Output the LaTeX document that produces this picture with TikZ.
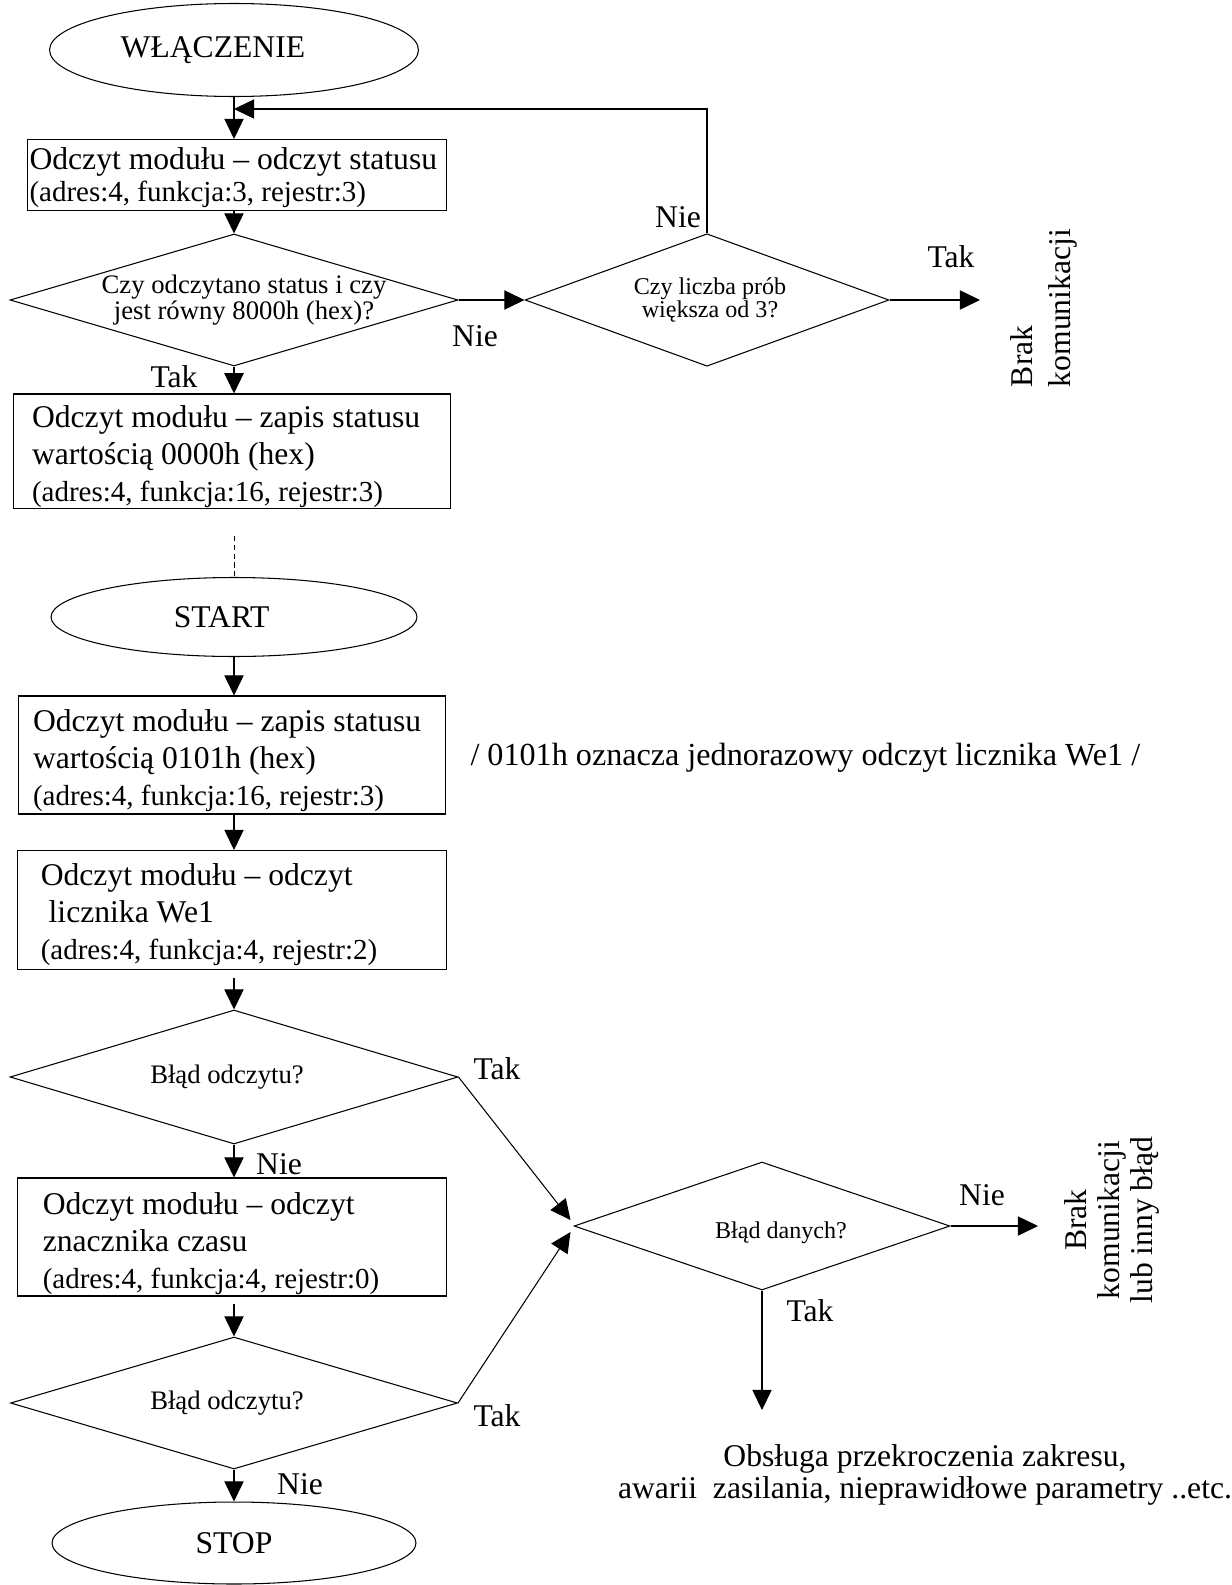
\documentclass[tikz,border=0pt]{standalone}
\usepackage{fontspec}
\setmainfont{Liberation Serif}
\usepackage{tikz}
\usetikzlibrary{shapes.geometric,arrows.meta}
\newcommand{\duzy}{\fontsize{18}{21.2}\selectfont}
\newcommand{\sredni}{\fontsize{16.5}{19}\selectfont}
\newcommand{\romba}{\fontsize{15.2}{15}\selectfont}
\newcommand{\rombb}{\fontsize{13.7}{13.3}\selectfont}

\begin{document}
\begin{tikzpicture}[x=0.02cm,y=-0.02cm,line width=0.6pt,
    owal/.style={draw,ellipse,inner sep=0pt,font=\duzy},
    blok/.style={draw,rectangle,align=flush left,inner ysep=0pt,font=\duzy},
    romb/.style={draw,diamond,inner sep=0pt},
    etyk/.style={inner sep=0pt,font=\duzy},
    strz/.style={-{Triangle[length=11.5pt,width=11pt]}}]
\useasboundingbox (0,0) rectangle (1231,1585);

\node[owal,minimum width=7.38cm,minimum height=1.86cm] (wl) at (234,50) {WŁĄCZENIE\hspace*{24pt}};
\node[blok,text width=8.3cm,inner xsep=0.04cm,minimum height=1.42cm,text height=15.7pt] (b1) at (237,175)
    {Odczyt modułu – odczyt statusu\\[-3pt]{\sredni(adres:4, funkcja:3, rejestr:3)}};
\node[romb,minimum width=8.96cm,minimum height=2.64cm] (d1) at (234,300) {};
\node[font=\romba,align=center,inner sep=0pt] (t1) at (244,300) {Czy odczytano status i czy\\jest równy 8000h (hex)?};
\node[romb,minimum width=7.28cm,minimum height=2.65cm] (d2) at (707,300) {};
\node[font=\rombb,align=center,inner sep=0pt] (t2) at (710,300) {Czy liczba prób\\większa od 3?};
\coordinate (petla) at (234,109);
\coordinate (k1) at (980,300);
\node[etyk,rotate=90,align=left] (brak1) at (1044,308) {Brak\\komunikacji};
\node[blok,text width=8cm,inner xsep=0.38cm,minimum height=2.18cm,text height=19pt] (b2) at (232,451)
    {Odczyt modułu – zapis statusu\\wartością 0000h (hex)\\{\sredni(adres:4, funkcja:16, rejestr:3)}};

\coordinate (kr) at (234,536);
\node[owal,minimum width=7.32cm,minimum height=1.58cm] (start) at (234,617) {START\hspace*{14pt}};
\node[blok,text width=7.96cm,inner xsep=0.3cm,minimum height=2.36cm,text height=19pt] (b3) at (232,755)
    {Odczyt modułu – zapis statusu\\wartością 0101h (hex)\\{\sredni(adres:4, funkcja:16, rejestr:3)}};
\node[etyk,anchor=west,font=\fontsize{18.3}{21}\selectfont] (uwaga) at (470,758) {/ 0101h oznacza jednorazowy odczyt licznika We1 /};
\node[blok,text width=7.65cm,inner xsep=0.46cm,minimum height=2.38cm,text height=18pt] (b4) at (232,910)
    {Odczyt modułu – odczyt\\\hspace*{4.5pt}licznika We1\\{\sredni(adres:4, funkcja:4, rejestr:2)}};
\node[romb,minimum width=8.96cm,minimum height=2.68cm] (d3) at (234,1077) {};
\node[font=\romba,inner sep=0pt] (t3) at (227,1077) {Błąd odczytu?};
\node[blok,text width=7.57cm,inner xsep=0.5cm,minimum height=2.36cm,text height=20pt] (b5) at (232,1237)
    {Odczyt modułu – odczyt\\znacznika czasu\\{\sredni(adres:4, funkcja:4, rejestr:0)}};
\node[romb,minimum width=8.94cm,minimum height=2.64cm] (d5) at (234,1403) {};
\node[font=\romba,inner sep=0pt] (t5) at (227,1403) {Błąd odczytu?};
\node[owal,minimum width=7.28cm,minimum height=1.64cm] (stop) at (234,1543) {STOP};

\node[romb,minimum width=7.52cm,minimum height=2.56cm] (d4) at (762,1226) {};
\node[font=\rombb,inner sep=0pt] (t4) at (781,1233) {Błąd danych?};
\coordinate (we1) at ([shift={(-3,-6)}]d4.west);
\coordinate (we2) at ([shift={(-3,6)}]d4.west);
\coordinate (k2) at (1038,1226);
\coordinate (k3) at (762,1410);
\node[rotate=90,align=center,inner sep=0pt,font=\fontsize{18}{19}\selectfont] (brak2) at (1112,1220)
    {Brak\\komunikacji\\lub inny błąd};
\node[align=center,inner sep=0pt,font=\fontsize{18}{18.5}\selectfont] (obs) at (925,1475)
    {Obsługa przekroczenia zakresu,\\awarii\ \ zasilania, nieprawidłowe parametry ..etc.};

\draw[strz] (wl) -- (wl |- b1.north);
\draw[strz] (d2.north) |- (petla);
\draw[strz] (b1.south -| d1.north) -- (d1.north);
\draw[strz] (d1) -- (d2);
\draw[strz] (d2) -- (k1);
\draw[strz] (d1.south) -- (d1.south |- b2.north);
\draw[densely dashed,line width=0.4pt] (kr) -- (start);
\draw[strz] (start) -- (start |- b3.north);
\draw[strz] (b3.south -| start) -- (start |- b4.north);
\draw[strz,shorten <=4.5pt] (b4.south -| d3.north) -- (d3.north);
\draw[strz] (d3.south) -- (d3.south |- b5.north);
\draw[strz,shorten <=4pt] (b5.south -| d5.north) -- (d5.north);
\draw[strz] (d5) -- (stop);
\draw[strz] (d3.east) -- (we1);
\draw[strz] (d5.east) -- (we2);
\draw[strz] (d4) -- (k2);
\draw[strz] (d4) -- (k3);

\node[etyk] (l1) at (475,336) {Nie};
\node[etyk] (l2) at (174,377) {Tak};
\node[etyk] (l3) at (678,217) {Nie};
\node[etyk] (l4) at (951,257) {Tak};
\node[etyk] (l5) at (497,1069) {Tak};
\node[etyk,anchor=base] (l6) at (279,1174) {Nie};
\node[etyk] (l7) at (497,1416) {Tak};
\node[etyk] (l8) at (300,1484) {Nie};
\node[etyk] (l9) at (982,1195) {Nie};
\node[etyk] (l10) at (810,1311) {Tak};
\end{tikzpicture}
\end{document}
